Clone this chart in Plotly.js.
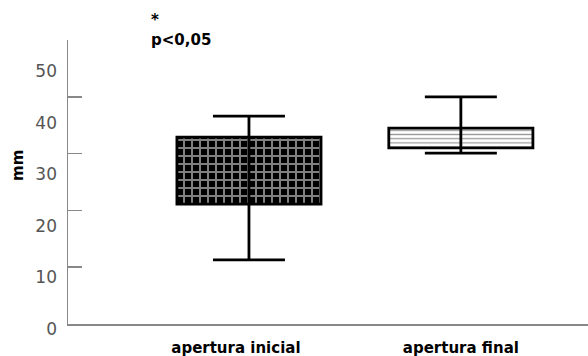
<!DOCTYPE html>
<html>
<head>
<meta charset="utf-8">
<script src="https://cdn.plot.ly/plotly-3.0.1.min.js"></script>
<style>html,body{margin:0;padding:0;background:#fff;}#chart{width:588px;height:356px;}</style>
</head>
<body>
<div id="chart"></div>
<script>
var categories = ['apertura inicial', 'apertura final'];
var q1 = [21.1, 31.0];
var q3 = [32.9, 34.5];
var median = [30.5, 33.0];
var lowerWhisker = [11.3, 30.1];
var upperWhisker = [36.6, 40.0];
var yTickLabels = ['0', '10', '20', '30', '40', '50'];
var yTickValues = [0, 10, 20, 30, 40, 50];

var boxHeights = q3.map(function (v, i) { return v - q1[i]; });
var errPlus = upperWhisker.map(function (v, i) { return v - median[i]; });
var errMinus = lowerWhisker.map(function (v, i) { return median[i] - v; });

var font = '"DejaVu Sans", Verdana, sans-serif';
var nb = '\u00a0';
var xTickText = [categories[0] + nb + nb + nb + nb + nb, categories[1]];

var box1 = {
  type: 'bar',
  x: [categories[0]],
  y: [boxHeights[0]],
  base: [q1[0]],
  width: 0.68,
  marker: {
    color: 'black',
    line: {color: 'black', width: 2.8},
    pattern: {shape: '+', fgcolor: 'white', bgcolor: 'black', size: 8, solidity: 0.44, fillmode: 'overlay'}
  },
  hoverinfo: 'skip',
  showlegend: false
};

var box2 = {
  type: 'bar',
  x: [categories[1]],
  y: [boxHeights[1]],
  base: [q1[1]],
  width: 0.68,
  marker: {
    color: 'white',
    line: {color: 'black', width: 2.8},
    pattern: {shape: '-', fgcolor: '#333333', bgcolor: 'white', size: 4.2, solidity: 0.3, fillmode: 'overlay'}
  },
  hoverinfo: 'skip',
  showlegend: false
};

var whiskers = {
  type: 'scatter',
  mode: 'markers',
  x: categories,
  y: median,
  marker: {size: 1, color: 'rgba(0,0,0,0)'},
  error_y: {
    type: 'data',
    symmetric: false,
    array: errPlus,
    arrayminus: errMinus,
    color: 'black',
    thickness: 2.8,
    width: 36
  },
  showlegend: false,
  hoverinfo: 'skip'
};

var labelsTrace = {
  type: 'scatter',
  x: [categories[0]],
  y: [0],
  yaxis: 'y2',
  mode: 'markers',
  marker: {size: 1, color: 'rgba(0,0,0,0)'},
  showlegend: false,
  hoverinfo: 'skip'
};

var layout = {
  width: 588,
  height: 356,
  margin: {l: 68, r: 0, t: 40, b: 32},
  paper_bgcolor: 'white',
  plot_bgcolor: 'white',
  showlegend: false,
  barmode: 'overlay',
  xaxis: {
    type: 'category',
    range: [-0.854, 1.6],
    showline: true,
    linecolor: '#888888',
    linewidth: 1.5,
    showgrid: false,
    zeroline: false,
    ticks: '',
    tickvals: categories,
    ticktext: xTickText,
    ticklabelstandoff: 9,
    tickfont: {family: font, size: 15, color: 'black', weight: 'bold'},
    fixedrange: true
  },
  yaxis: {
    range: [0, 50],
    showline: true,
    linecolor: '#888888',
    linewidth: 1.5,
    showgrid: false,
    zeroline: false,
    ticks: 'inside',
    ticklen: 14,
    tickwidth: 1.5,
    tickcolor: '#888888',
    tickvals: yTickValues,
    showticklabels: false
  },
  yaxis2: {
    overlaying: 'y',
    side: 'left',
    range: [-0.01, 55.14],
    showline: false,
    showgrid: false,
    zeroline: false,
    ticks: '',
    tickvals: yTickValues,
    ticktext: yTickLabels,
    ticklabelstandoff: 10,
    ticklabelshift: 5,
    tickfont: {family: font, size: 17, color: '#555555'}
  },
  annotations: [
    {
      xref: 'paper', yref: 'paper',
      x: (149 - 68) / 520, y: 1 + (40 - 9) / 284,
      xanchor: 'left', yanchor: 'top', align: 'left',
      showarrow: false,
      text: '<b>*</b><br><b>p&lt;0,05</b>',
      font: {family: font, size: 15, color: 'black'}
    },
    {
      xref: 'paper', yref: 'paper',
      x: (18 - 68) / 520, y: (324 - 166) / 284,
      xanchor: 'center', yanchor: 'middle',
      textangle: -90,
      showarrow: false,
      text: '<b>mm</b>',
      font: {family: font, size: 15, color: 'black'}
    }
  ]
};

Plotly.newPlot('chart', [box1, box2, whiskers, labelsTrace], layout, {displayModeBar: false, staticPlot: true});
</script>
</body>
</html>
